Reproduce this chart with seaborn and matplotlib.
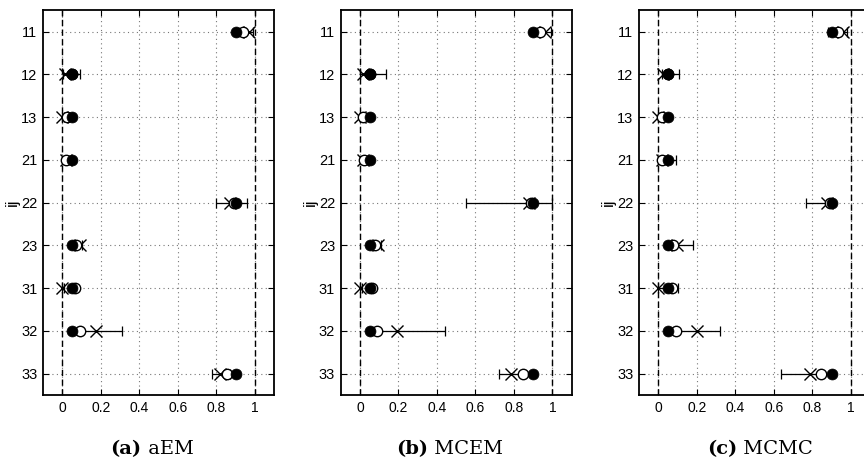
import numpy as np
import pandas as pd
import matplotlib
matplotlib.use("Agg")
import matplotlib.pyplot as plt
import seaborn as sns

# rows (ij) shown top to bottom
labels = ["11", "12", "13", "21", "22", "23", "31", "32", "33"]
xticks = [0, 0.2, 0.4, 0.6, 0.8, 1]

# filled circle = true value, same in all panels
true_vals = [0.90, 0.05, 0.05, 0.05, 0.90, 0.05, 0.05, 0.05, 0.90]

# aEM
aem_open = [0.94, 0.05, 0.025, 0.02, 0.89, 0.07, 0.065, 0.09, 0.855]
aem_x = [0.97, 0.015, 0.0, 0.02, 0.87, 0.09, 0.0, 0.175, 0.82]
aem_lo = [0.95, 0.003, 0.0, 0.01, 0.80, 0.06, 0.0, 0.05, 0.78]
aem_hi = [0.99, 0.09, 0.01, 0.03, 0.96, 0.10, 0.01, 0.31, 0.87]

# MCEM
mcem_open = [0.935, 0.05, 0.017, 0.02, 0.89, 0.078, 0.065, 0.09, 0.845]
mcem_x = [0.96, 0.014, 0.0, 0.015, 0.88, 0.095, 0.0, 0.195, 0.787]
mcem_lo = [0.93, 0.0, 0.0, 0.01, 0.55, 0.07, 0.0, 0.05, 0.723]
mcem_hi = [0.995, 0.135, 0.01, 0.03, 1.0, 0.11, 0.01, 0.44, 0.85]

# MCMC
mcmc_open = [0.936, 0.05, 0.02, 0.02, 0.89, 0.078, 0.07, 0.09, 0.844]
mcmc_x = [0.96, 0.025, 0.0, 0.017, 0.875, 0.095, 0.0, 0.20, 0.79]
mcmc_lo = [0.88, 0.017, 0.0, 0.01, 0.766, 0.05, 0.0, 0.087, 0.64]
mcmc_hi = [0.98, 0.107, 0.01, 0.09, 0.91, 0.18, 0.10, 0.32, 0.85]

panels = [
    ("(a)", "aEM", aem_open, aem_x, aem_lo, aem_hi),
    ("(b)", "MCEM", mcem_open, mcem_x, mcem_lo, mcem_hi),
    ("(c)", "MCMC", mcmc_open, mcmc_x, mcmc_lo, mcmc_hi),
]

sns.set_style("white")
plt.rcParams["font.family"] = ["Liberation Sans", "DejaVu Sans"]
plt.rcParams["text.color"] = "black"
plt.rcParams["axes.labelcolor"] = "black"
plt.rcParams["xtick.color"] = "black"
plt.rcParams["ytick.color"] = "black"

fig = plt.figure(figsize=(8.64, 4.61), dpi=100)
lefts = [0.0498, 0.3943, 0.7396]
caption_cx = [152, 450, 760]  # pixel centres of the captions
caption_y = 0.026
captions = []

for i, (tag, name, op, xs, lo, hi) in enumerate(panels):
    ax = fig.add_axes([lefts[i], 0.143, 0.2674, 0.835])
    pos = np.arange(1, len(labels) + 1)
    df = pd.DataFrame({"row": pos, "true": true_vals, "open": op, "x": xs,
                       "lo": lo, "hi": hi})

    ax.axvline(0, color="black", lw=1, ls=(0, (4.5, 2.5)), zorder=1)
    ax.axvline(1, color="black", lw=1, ls=(0, (4.5, 2.5)), zorder=1)

    ax.errorbar(df["x"], df["row"],
                xerr=[df["x"] - df["lo"], df["hi"] - df["x"]],
                fmt="none", ecolor="black", elinewidth=0.9, capsize=3.5,
                capthick=0.9, zorder=3)
    ax.plot(df["x"], df["row"], "x", color="black", ms=8, mew=1.0,
            ls="none", zorder=4)
    ax.plot(df["open"], df["row"], "o", mfc="white", mec="black", ms=7.5,
            mew=1.0, ls="none", zorder=5)
    sns.scatterplot(data=df, x="true", y="row", ax=ax, color="black",
                    s=62, edgecolor="black", linewidth=0.5, zorder=6,
                    legend=False)

    ax.set_xlim(-0.1, 1.1)
    ax.set_ylim(9.5, 0.5)
    ax.set_xticks(xticks)
    ax.set_xticklabels([f"{t:g}" for t in xticks], fontsize=10)
    ax.set_yticks(pos)
    ax.set_yticklabels(labels, fontsize=10.5)
    ax.grid(True, color="#777777", ls=(0, (1, 3)), lw=0.8)
    ax.tick_params(direction="in", length=4, width=0.8, top=True, right=True,
                   bottom=True, left=True, pad=4)
    for s in ax.spines.values():
        s.set_color("black")
        s.set_linewidth(1.3)
    ax.set_xlabel("")
    ax.set_ylabel("ij", fontsize=12, labelpad=1)

    t1 = fig.text(0, caption_y, tag, ha="left", va="center",
                  fontsize=14, fontweight="bold", family="DejaVu Serif")
    t2 = fig.text(0, caption_y, " " + name, ha="left", va="center",
                  fontsize=14, family="DejaVu Serif")
    captions.append((t1, t2, caption_cx[i]))

# centre each two-part caption on its panel
fig.canvas.draw()
r = fig.canvas.get_renderer()
W = fig.bbox.width
for t1, t2, cx in captions:
    w1 = t1.get_window_extent(r).width
    w2 = t2.get_window_extent(r).width
    x0 = cx - (w1 + w2) / 2
    t1.set_x(x0 / W)
    t2.set_x((x0 + w1) / W)

fig.savefig("out.png", dpi=100)
